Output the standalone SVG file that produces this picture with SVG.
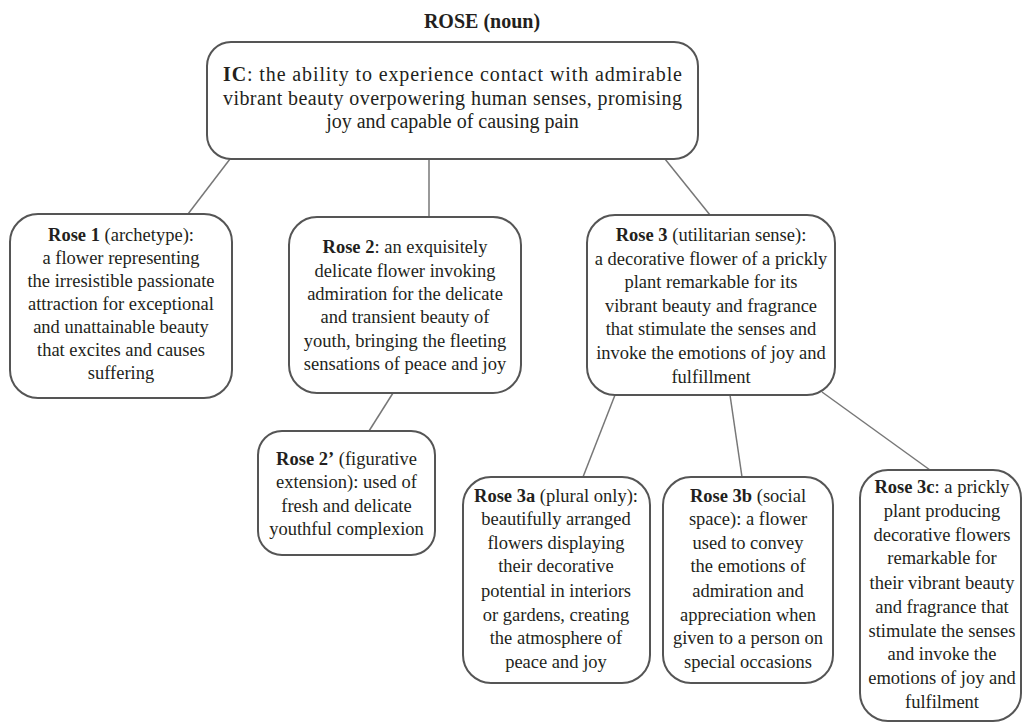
<svg xmlns="http://www.w3.org/2000/svg" width="1023" height="722" viewBox="0 0 1023 722">
<style>
.box{fill:#fff;stroke:#555;stroke-width:2}
.t{font-family:'Liberation Serif','Tinos','Times New Roman','DejaVu Serif',serif;font-size:18.5px;fill:#231f20;text-anchor:middle}
.ic{font-family:'Liberation Serif','Tinos','Times New Roman','DejaVu Serif',serif;font-size:20px;fill:#231f20}
.b{font-weight:bold}
.c{stroke:#777;stroke-width:1.5;fill:none}
</style>
<rect width="1023" height="722" fill="#fff"/>
<text x="482" y="28" class="ic b" text-anchor="middle">ROSE (noun)</text>
<g id="connectors">
<line class="c" x1="230" y1="159" x2="188" y2="214"/>
<line class="c" x1="429" y1="159" x2="429" y2="217"/>
<line class="c" x1="665" y1="159" x2="710" y2="215"/>
<line class="c" x1="393" y1="393" x2="369" y2="431"/>
<line class="c" x1="615" y1="395" x2="583" y2="477"/>
<line class="c" x1="730" y1="395" x2="742" y2="477"/>
<line class="c" x1="822" y1="392" x2="930" y2="470"/>
</g>
<g id="ic">
<rect class="box" x="207" y="42" width="491" height="117" rx="24"/>
<text class="ic" x="223" y="81" textLength="459" lengthAdjust="spacing"><tspan class="b">IC</tspan>: the ability to experience contact with admirable</text>
<text class="ic" x="223" y="105" textLength="459" lengthAdjust="spacing">vibrant beauty overpowering human senses, promising</text>
<text class="ic" x="452.5" y="128" text-anchor="middle">joy and capable of causing pain</text>
</g>
<g id="rose1">
<rect class="box" x="10" y="214" width="222" height="184" rx="28"/>
<text class="t" x="121" y="241"><tspan class="b">Rose 1</tspan> (archetype):</text>
<text class="t" x="121" y="264">a flower representing</text>
<text class="t" x="121" y="287">the irresistible passionate</text>
<text class="t" x="121" y="310">attraction for exceptional</text>
<text class="t" x="121" y="333">and unattainable beauty</text>
<text class="t" x="121" y="356">that excites and causes</text>
<text class="t" x="121" y="379">suffering</text>
</g>
<g id="rose2">
<rect class="box" x="289" y="217" width="232" height="176" rx="28"/>
<text class="t" x="405" y="253"><tspan class="b">Rose 2</tspan>: an exquisitely</text>
<text class="t" x="405" y="277">delicate flower invoking</text>
<text class="t" x="405" y="300">admiration for the delicate</text>
<text class="t" x="405" y="323">and transient beauty of</text>
<text class="t" x="405" y="347">youth, bringing the fleeting</text>
<text class="t" x="405" y="370">sensations of peace and joy</text>
</g>
<g id="rose3">
<rect class="box" x="587" y="215" width="248" height="180" rx="28"/>
<text class="t" x="711" y="241"><tspan class="b">Rose 3</tspan> (utilitarian sense):</text>
<text class="t" x="711" y="265">a decorative flower of a prickly</text>
<text class="t" x="711" y="288">plant remarkable for its</text>
<text class="t" x="711" y="312">vibrant beauty and fragrance</text>
<text class="t" x="711" y="335">that stimulate the senses and</text>
<text class="t" x="711" y="359">invoke the emotions of joy and</text>
<text class="t" x="711" y="383">fulfillment</text>
</g>
<g id="rose2p">
<rect class="box" x="258" y="431" width="177" height="124" rx="24"/>
<text class="t" x="346.5" y="465"><tspan class="b">Rose 2’</tspan> (figurative</text>
<text class="t" x="346.5" y="488">extension): used of</text>
<text class="t" x="346.5" y="512">fresh and delicate</text>
<text class="t" x="346.5" y="535">youthful complexion</text>
</g>
<g id="rose3a">
<rect class="box" x="463" y="477" width="187" height="206" rx="28"/>
<text class="t" x="556" y="502"><tspan class="b">Rose 3a</tspan> (plural only):</text>
<text class="t" x="556" y="525">beautifully arranged</text>
<text class="t" x="556" y="549">flowers displaying</text>
<text class="t" x="556" y="572">their decorative</text>
<text class="t" x="556" y="597">potential in interiors</text>
<text class="t" x="556" y="621">or gardens, creating</text>
<text class="t" x="556" y="644">the atmosphere of</text>
<text class="t" x="556" y="668">peace and joy</text>
</g>
<g id="rose3b">
<rect class="box" x="663" y="477" width="170" height="206" rx="28"/>
<text class="t" x="748" y="502"><tspan class="b">Rose 3b</tspan> (social</text>
<text class="t" x="748" y="525">space): a flower</text>
<text class="t" x="748" y="549">used to convey</text>
<text class="t" x="748" y="572">the emotions of</text>
<text class="t" x="748" y="597">admiration and</text>
<text class="t" x="748" y="621">appreciation when</text>
<text class="t" x="748" y="644">given to a person on</text>
<text class="t" x="748" y="668">special occasions</text>
</g>
<g id="rose3c">
<rect class="box" x="860" y="470" width="161" height="251" rx="28"/>
<text class="t" x="942" y="493"><tspan class="b">Rose 3c</tspan>: a prickly</text>
<text class="t" x="942" y="517">plant producing</text>
<text class="t" x="942" y="541">decorative flowers</text>
<text class="t" x="942" y="564">remarkable for</text>
<text class="t" x="942" y="589">their vibrant beauty</text>
<text class="t" x="942" y="613">and fragrance that</text>
<text class="t" x="942" y="637">stimulate the senses</text>
<text class="t" x="942" y="660">and invoke the</text>
<text class="t" x="942" y="684">emotions of joy and</text>
<text class="t" x="942" y="708">fulfilment</text>
</g>
</svg>
